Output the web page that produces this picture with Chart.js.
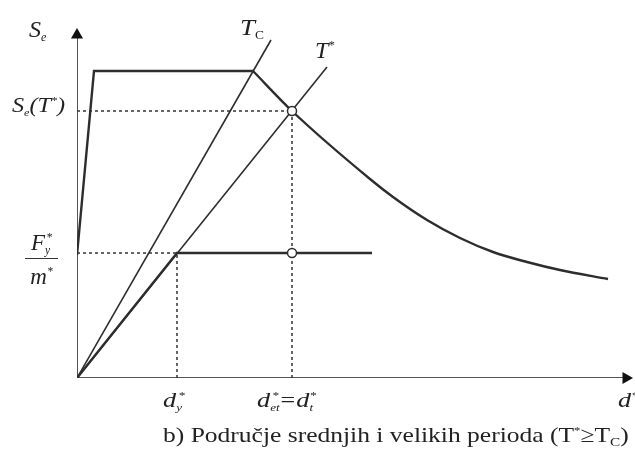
<!DOCTYPE html>
<html>
<head>
<meta charset="utf-8">
<script src="https://cdn.jsdelivr.net/npm/chart.js@4"></script>
<style>
body { margin:0; background:#fff; }
#wrap { position:relative; width:635px; height:467px; font-family:"Liberation Serif","Times New Roman",serif; color:#222; overflow:hidden; }
#wrap canvas { position:absolute; left:0; top:0; }
.lbl { position:absolute; font-style:italic; line-height:1; white-space:nowrap; transform-origin:0 0; }
.wide { transform:scaleX(1.25); }
.sb { font-size:0.5em; position:relative; top:0.35em; }
.sp { font-size:0.5em; position:relative; top:-0.75em; }
.frac { position:absolute; left:25px; top:231px; width:33px; text-align:center; font-style:italic; font-size:23px; line-height:1; }
.frac .bar { border-top:1.5px solid #333; margin:4px 0 6px 0; }
#caption { position:absolute; left:163px; top:424px; font-size:22px; line-height:1; white-space:nowrap; transform:scaleX(1.16); transform-origin:0 0; }
</style>
</head>
<body>
<div id="wrap">
  <canvas id="chart" width="635" height="467"></canvas>
  <div class="lbl" style="left:29px;top:17px;font-size:24px">S<span class="sb">e</span></div>
  <div class="lbl" style="left:240px;top:15px;font-size:24px;transform:scaleX(1.12)">T<span class="sb" style="font-style:normal">C</span></div>
  <div class="lbl" style="left:315px;top:38px;font-size:24px">T<span class="sp">*</span></div>
  <div class="lbl" style="left:12px;top:94px;font-size:22px;transform:scaleX(1.1)">S<span class="sb">e</span>(T<span class="sp">*</span>)</div>
  <div class="frac"><div>F<span class="sb">y</span><span class="sp" style="margin-left:-4px">*</span></div><div class="bar"></div><div>m<span class="sp">*</span></div></div>
  <div class="lbl wide" style="left:163px;top:390px;font-size:21px">d<span class="sb">y</span><span class="sp" style="margin-left:-3px">*</span></div>
  <div class="lbl wide" style="left:257px;top:390px;font-size:21px">d<span class="sb">et</span><span class="sp" style="margin-left:-6px">*</span>=d<span class="sb">t</span><span class="sp" style="margin-left:-3px">*</span></div>
  <div class="lbl wide" style="left:618px;top:390px;font-size:21px">d<span class="sp">*</span></div>
  <div id="caption">b) Područje srednjih i velikih perioda (T<span style="font-size:0.5em;position:relative;top:-0.75em">*</span>≥T<span style="font-size:0.6em;position:relative;top:0.3em">C</span>)</div>
</div>
<script>
// elastic spectrum, rising part and plateau
const spectrumX = [0, 17, 176];
const spectrumY = [123, 307, 307];
// descending branch of the spectrum
const curveX = [176, 215, 293, 316, 350, 383, 416, 450, 483, 531];
const curveY = [307, 267, 199, 181, 158, 140, 126, 116, 108, 99];
// period lines T_C and T*
const tcX = [0, 194];
const tcY = [0, 338];
const tStarX = [0, 250];
const tStarY = [0, 311];
// idealised capacity curve
const capX = [0, 100, 295];
const capY = [0, 125, 125];
// marked values
const dyVal = 100;
const fyVal = 125;
const dtVal = 215;
const seVal = 267;
const xMax = 558;
const yMax = 350;

const ink = '#2d2d2d';

function pts(xs, ys) {
    return xs.map((x, i) => ({ x: x, y: ys[i] }));
}

function lineSet(data, width, extra) {
    return Object.assign({
        data: data,
        showLine: true,
        borderColor: ink,
        borderWidth: width,
        pointRadius: 0,
        fill: false,
        tension: 0
    }, extra || {});
}

const dash = { borderDash: [3, 3], borderColor: '#333' };

// first dataset is painted on top
const datasets = [
    // intersection circles
    {
        data: [{ x: dtVal, y: seVal }, { x: dtVal, y: fyVal }],
        showLine: false,
        pointRadius: 4.5,
        pointBackgroundColor: '#fff',
        pointBorderColor: ink,
        pointBorderWidth: 1.5
    },
    // arrow heads
    {
        data: [{ x: 0, y: yMax - 7 }],
        showLine: false,
        pointStyle: 'triangle',
        pointRadius: 7,
        pointBackgroundColor: '#111',
        pointBorderWidth: 0,
        clip: false
    },
    {
        data: [{ x: xMax - 9, y: 0 }],
        showLine: false,
        pointStyle: 'triangle',
        rotation: 90,
        pointRadius: 7,
        pointBackgroundColor: '#111',
        pointBorderWidth: 0,
        clip: false
    },
    // spectrum
    lineSet(pts(spectrumX, spectrumY), 2.4),
    lineSet(pts(curveX, curveY), 2.4, { cubicInterpolationMode: 'monotone' }),
    // capacity
    lineSet(pts(capX, capY), 2.4),
    // period lines
    lineSet(pts(tcX, tcY), 1.6),
    lineSet(pts(tStarX, tStarY), 1.6),
    // dashed guides
    lineSet([{ x: 0, y: seVal }, { x: dtVal, y: seVal }], 1.5, dash),
    lineSet([{ x: dtVal, y: 0 }, { x: dtVal, y: seVal }], 1.5, dash),
    lineSet([{ x: 0, y: fyVal }, { x: dyVal, y: fyVal }], 1.5, dash),
    lineSet([{ x: dyVal, y: 0 }, { x: dyVal, y: fyVal }], 1.5, dash),
    // axes
    lineSet([{ x: 0, y: 0 }, { x: 0, y: yMax - 8 }], 2, { borderColor: '#555' }),
    lineSet([{ x: 0, y: 0 }, { x: xMax - 8, y: 0 }], 2, { borderColor: '#555' })
];

new Chart(document.getElementById('chart'), {
    type: 'scatter',
    data: { datasets: datasets },
    options: {
        responsive: false,
        animation: false,
        devicePixelRatio: 1,
        layout: { autoPadding: false, padding: { left: 77, right: 0, top: 28, bottom: 89 } },
        plugins: { legend: { display: false }, tooltip: { enabled: false } },
        scales: {
            x: { type: 'linear', min: 0, max: xMax, display: false },
            y: { type: 'linear', min: 0, max: yMax, display: false }
        }
    }
});
</script>
</body>
</html>
